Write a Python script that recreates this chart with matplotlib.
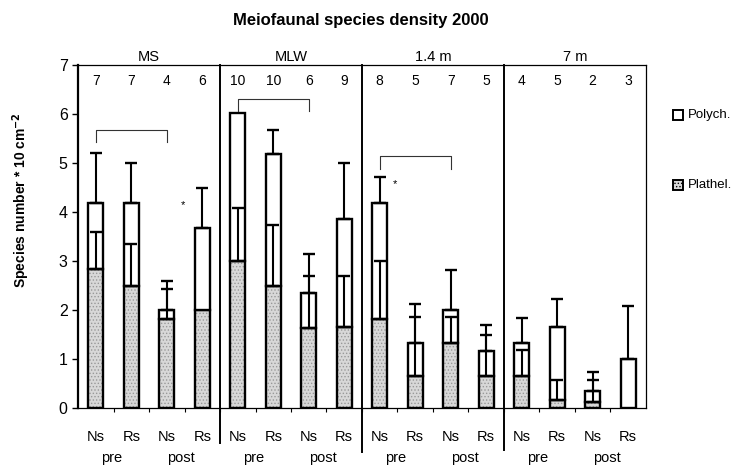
import matplotlib
matplotlib.use('Agg')
import matplotlib.pyplot as plt
import matplotlib.patches as patches
import numpy as np

plt.rcParams['font.family'] = ['Liberation Sans', 'DejaVu Sans']
plt.rcParams['hatch.linewidth'] = 0.6

# data
groups = ['MS', 'MLW', '1.4 m', '7 m']
sites = ['Ns', 'Rs', 'Ns', 'Rs']
periods = ['pre', 'post']
n_counts = [7, 7, 4, 6, 10, 10, 6, 9, 8, 5, 7, 5, 4, 5, 2, 3]
plathel = [2.83, 2.49, 1.81, 2.00, 3.00, 2.49, 1.64, 1.66,
           1.81, 0.65, 1.33, 0.65, 0.65, 0.16, 0.12, 0.00]
polych = [1.36, 1.70, 0.19, 1.68, 3.02, 2.70, 0.70, 2.19,
          2.37, 0.68, 0.66, 0.51, 0.68, 1.49, 0.22, 0.99]
plathel_sd = [0.77, 0.85, 0.61, 0.00, 1.09, 1.24, 1.05, 1.03,
              1.19, 1.21, 0.53, 0.83, 0.53, 0.41, 0.46, 0.00]
total_sd = [1.02, 0.80, 0.59, 0.81, 0.00, 0.49, 0.81, 1.15,
            0.54, 0.80, 0.82, 0.53, 0.51, 0.57, 0.40, 1.10]
# significance brackets (bar index from, to) and asterisks
brackets = [(0, 2, 5.67, 5.42), (4, 6, 6.31, 6.06), (8, 10, 5.14, 4.88)]
stars = [(2.46, 4.15), (8.43, 4.56)]

fig = plt.figure(figsize=(7.44, 4.66), dpi=100)
fig.patch.set_facecolor('white')
ax = fig.add_axes([0.105, 0.1245, 0.763, 0.736])

x = np.arange(len(plathel))
plathel = np.array(plathel)
polych = np.array(polych)
total = plathel + polych
w = 0.42

# stippled Plathel part
ax.bar(x, plathel, w, color='#d8d8d8', edgecolor='#999999', hatch='.....', linewidth=0, zorder=2)
ax.bar(x, plathel, w, fill=False, edgecolor='black', linewidth=1.7, zorder=3)
ax.bar(x, polych, w, bottom=plathel, color='white', edgecolor='black', linewidth=1.7, zorder=3)

# error bars (upper only)
for i in range(len(x)):
    if plathel_sd[i] > 0:
        ax.errorbar(x[i], plathel[i], yerr=[[0], [plathel_sd[i]]], fmt='none',
                    ecolor='black', elinewidth=1.5, capsize=4.5, capthick=1.7, zorder=4)
    if total_sd[i] > 0:
        ax.errorbar(x[i], total[i], yerr=[[0], [total_sd[i]]], fmt='none',
                    ecolor='black', elinewidth=1.5, capsize=4.5, capthick=1.7, zorder=4)

# n above bars
for i, n in enumerate(n_counts):
    ax.text(x[i], 6.68, str(n), ha='center', va='center', fontsize=10)

# group labels and separators
sep_bottom = [-0.72, -0.9, -0.86]
for g, name in enumerate(groups):
    ax.text(g * 4 + 1.5, 7.03, name, ha='center', va='bottom', fontsize=10.5, clip_on=False)
for k, s in enumerate([3.5, 7.5, 11.5]):
    ax.plot([s, s], [sep_bottom[k], 7.0], color='black', lw=1.4, clip_on=False, zorder=5)

# brackets and asterisks
for a, b, top, leg in brackets:
    ax.plot([x[a], x[a], x[b], x[b]], [leg, top, top, leg], color='#333333', lw=0.8, zorder=4)
for sx, sy in stars:
    ax.text(sx, sy, '*', ha='center', va='center', fontsize=8)

# x labels
for i in x:
    ax.text(i, -0.6, sites[i % 4], ha='center', va='center', fontsize=10.5, clip_on=False)
for g in range(len(groups)):
    ax.text(g * 4 + 0.45, -1.02, periods[0], ha='center', va='center', fontsize=10.5, clip_on=False)
    ax.text(g * 4 + 2.4, -1.02, periods[1], ha='center', va='center', fontsize=10.5, clip_on=False)

ax.set_xlim(-0.5, 15.5)
ax.set_ylim(0, 7)
ax.set_yticks(range(8))
ax.tick_params(axis='y', labelsize=11.5, length=4, width=1)
ax.set_xticks([])
ax.set_xticks(np.arange(0.5, 15, 1), minor=True)
ax.tick_params(axis='x', which='minor', length=3, width=0.8, direction='out')
ax.spines['left'].set_linewidth(1.6)
for sp in ['top', 'right', 'bottom']:
    ax.spines[sp].set_linewidth(0.9)

fig.text(0.485, 0.957, 'Meiofaunal species density 2000', ha='center', va='center',
         fontsize=12, fontweight='bold')
fig.text(0.028, 0.57, 'Species number * 10 cm$^{\\mathbf{-2}}$', rotation=90, ha='center',
         va='center', fontsize=10, fontweight='bold')

# legend
leg_items = [('Polych.', 'white', None, 0.753), ('Plathel.', '#d8d8d8', '.....', 0.603)]
for label, fc, hatch, yy in leg_items:
    r = patches.Rectangle((0.905, yy - 0.011), 0.013, 0.021, transform=fig.transFigure,
                          facecolor=fc, edgecolor='black', linewidth=1.4, hatch=hatch)
    fig.patches.append(r)
    fig.text(0.925, yy, label, ha='left', va='center', fontsize=9.5)

plt.savefig('out.png', dpi=100, facecolor='white')
plt.close()
